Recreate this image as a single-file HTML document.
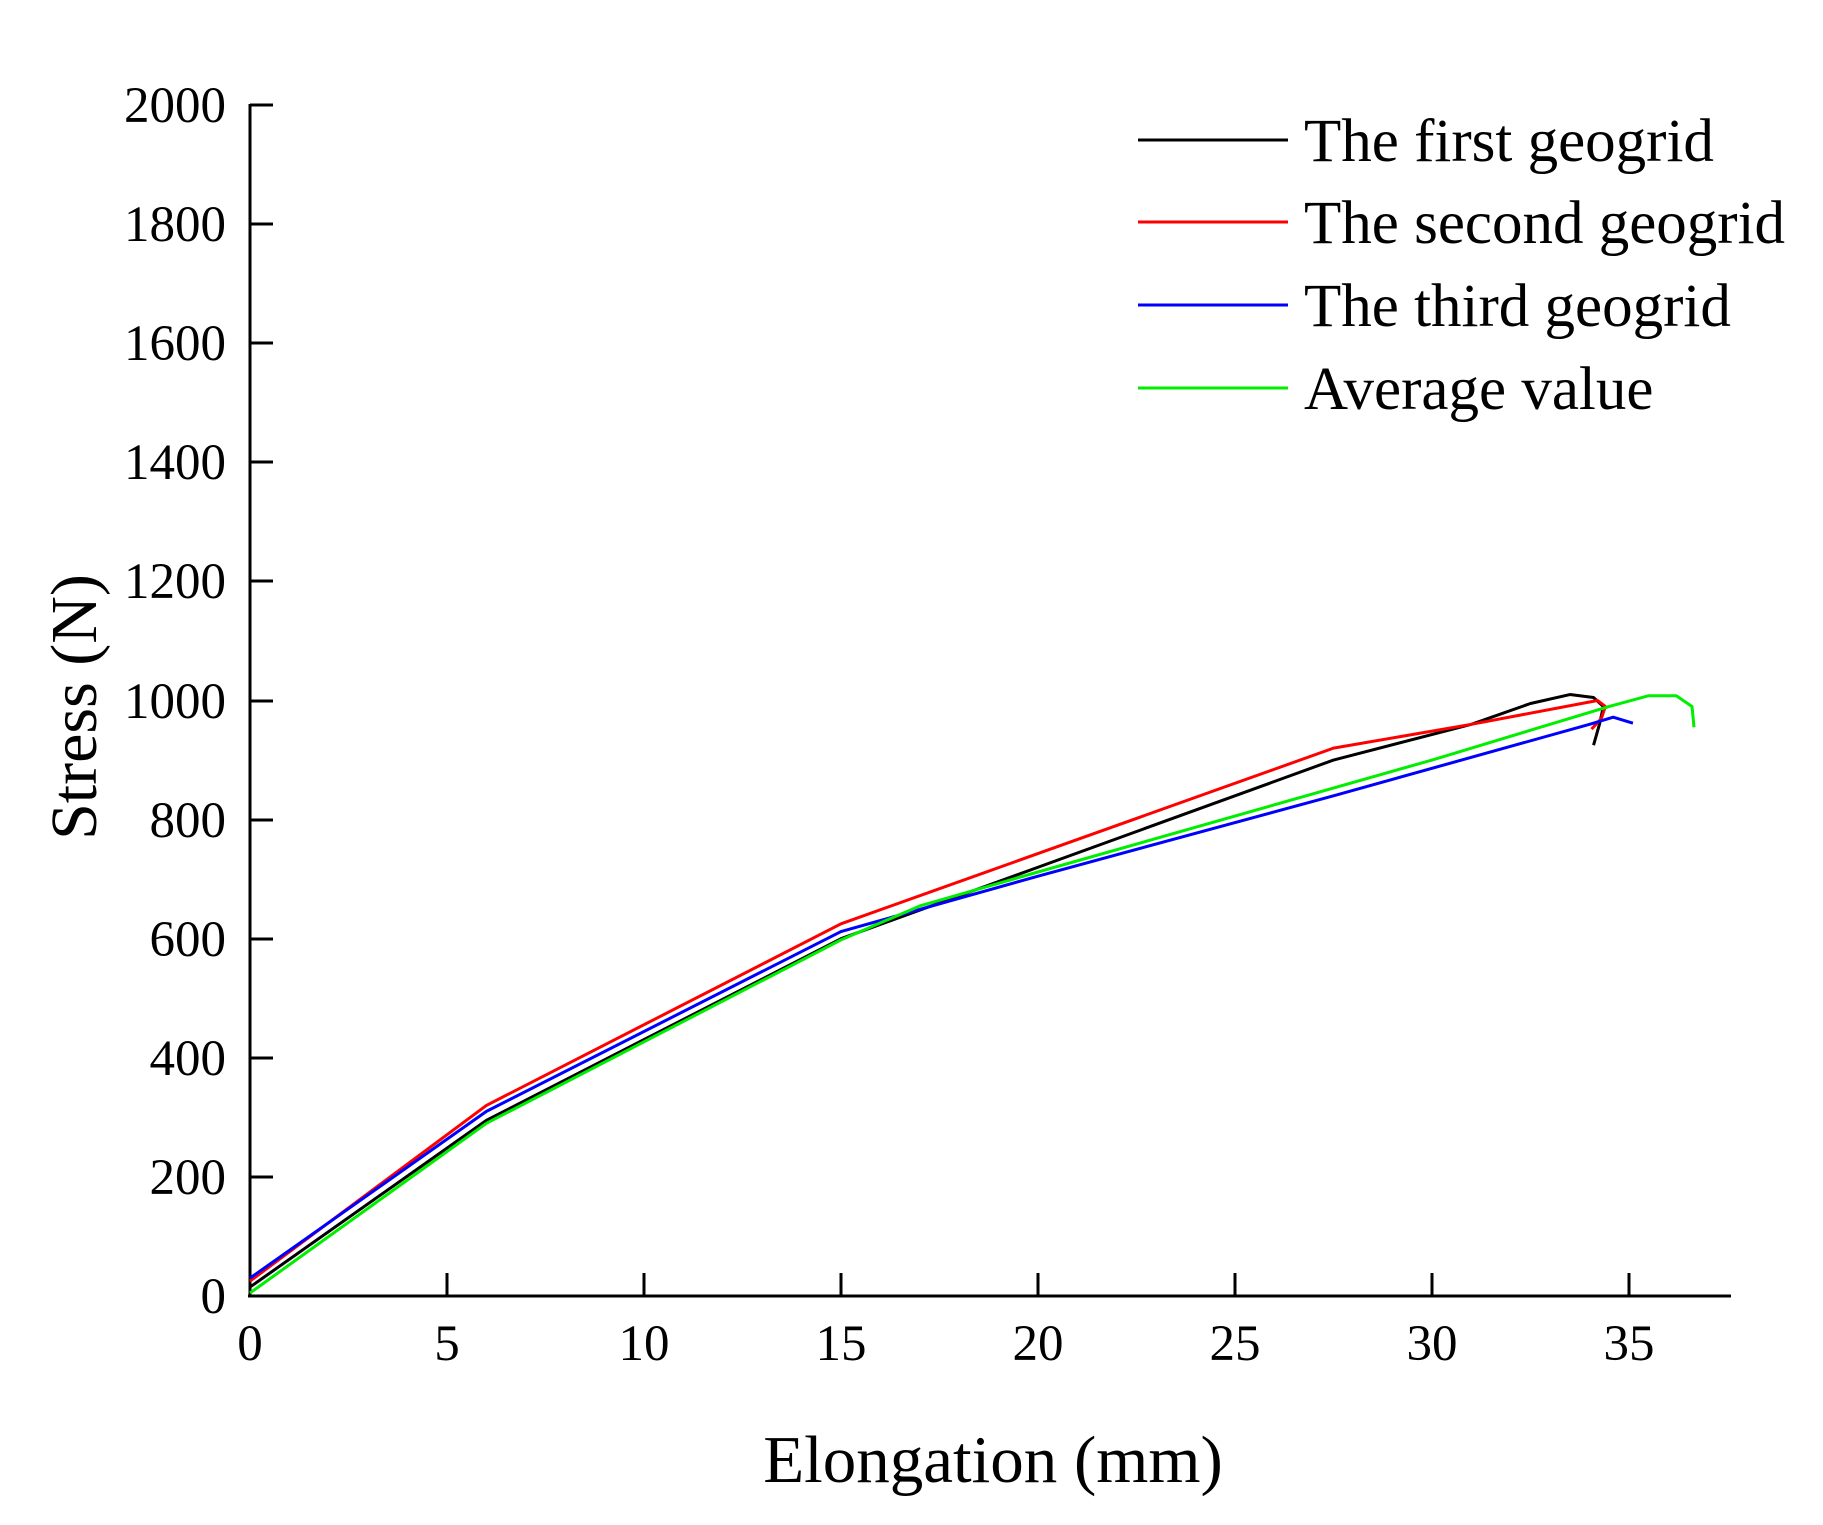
<!DOCTYPE html>
<html><head><style>html,body{margin:0;padding:0;background:#fff;}svg{display:block;}</style></head>
<body>
<svg width="1823" height="1525" viewBox="0 0 1823 1525" xmlns="http://www.w3.org/2000/svg" font-family="Liberation Serif, serif" fill="#000">
<g stroke="#000" stroke-width="3" fill="none">
<line x1="250" y1="104" x2="250" y2="1297"/>
<line x1="248" y1="1296" x2="1731" y2="1296"/>
<line x1="250" y1="105" x2="273" y2="105"/>
<line x1="250" y1="224" x2="273" y2="224"/>
<line x1="250" y1="343" x2="273" y2="343"/>
<line x1="250" y1="462" x2="273" y2="462"/>
<line x1="250" y1="581" x2="273" y2="581"/>
<line x1="250" y1="701" x2="273" y2="701"/>
<line x1="250" y1="820" x2="273" y2="820"/>
<line x1="250" y1="939" x2="273" y2="939"/>
<line x1="250" y1="1058" x2="273" y2="1058"/>
<line x1="250" y1="1177" x2="273" y2="1177"/>
<line x1="447" y1="1296" x2="447" y2="1273"/>
<line x1="644" y1="1296" x2="644" y2="1273"/>
<line x1="841" y1="1296" x2="841" y2="1273"/>
<line x1="1038" y1="1296" x2="1038" y2="1273"/>
<line x1="1235" y1="1296" x2="1235" y2="1273"/>
<line x1="1432" y1="1296" x2="1432" y2="1273"/>
<line x1="1629" y1="1296" x2="1629" y2="1273"/>
</g>
<g font-size="51" text-anchor="end">
<text x="226" y="122">2000</text><text x="226" y="241">1800</text><text x="226" y="360">1600</text>
<text x="226" y="479">1400</text><text x="226" y="598">1200</text><text x="226" y="718">1000</text>
<text x="226" y="837">800</text><text x="226" y="956">600</text><text x="226" y="1075">400</text>
<text x="226" y="1194">200</text><text x="226" y="1313">0</text>
</g>
<g font-size="51" text-anchor="middle">
<text x="250" y="1360">0</text><text x="447" y="1360">5</text><text x="644" y="1360">10</text>
<text x="841" y="1360">15</text><text x="1038" y="1360">20</text><text x="1235" y="1360">25</text>
<text x="1432" y="1360">30</text><text x="1629" y="1360">35</text>
</g>
<text x="993" y="1482" font-size="67" text-anchor="middle">Elongation (mm)</text>
<text transform="translate(96,707) rotate(-90)" font-size="66" text-anchor="middle">Stress (N)</text>
<g transform="translate(250,1296) scale(39.4,-0.5955)" fill="none" stroke-width="3" stroke-linejoin="round">
<polyline vector-effect="non-scaling-stroke" stroke="#000" points="0,15 6,295 15,600 20,720 27.5,900 31,960 32.5,995 33.5,1010 34.1,1005 34.35,990 34.25,960 34.1,925"/>
<polyline vector-effect="non-scaling-stroke" stroke="#f00" points="0,25 6,320 15,625 27.5,920 31,960 34.2,1000 34.4,990 34.3,970 34.05,952"/>
<polyline vector-effect="non-scaling-stroke" stroke="#00f" points="0,30 6,310 15,612 20,705 27.5,840 34,960 34.6,972 35.1,962"/>
<polyline vector-effect="non-scaling-stroke" stroke="#0e0" points="0,5 6,290 15,598 17,655 20,712 30,900 34.5,990 35.5,1008 36.2,1008 36.6,990 36.65,955"/>
</g>
<g stroke-width="3">
<line x1="1138" y1="140" x2="1288" y2="140" stroke="#000"/>
<line x1="1138" y1="222" x2="1288" y2="222" stroke="#f00"/>
<line x1="1138" y1="305" x2="1288" y2="305" stroke="#00f"/>
<line x1="1138" y1="388" x2="1288" y2="388" stroke="#0e0"/>
</g>
<g font-size="61">
<text x="1304" y="161">The first geogrid</text>
<text x="1304" y="243">The second geogrid</text>
<text x="1304" y="326">The third geogrid</text>
<text x="1304" y="409">Average value</text>
</g>
</svg>
</body></html>
